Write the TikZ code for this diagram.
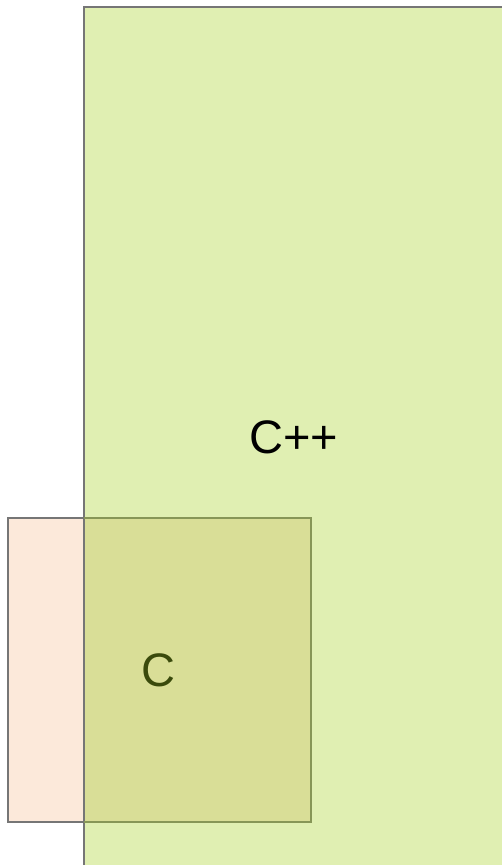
\documentclass[tikz,border=0pt]{standalone}
\usepackage{fontspec}
\setmainfont{Liberation Sans}
\definecolor{cppfill}{HTML}{E0EFB2}
\definecolor{cfill}{HTML}{FCE9DA}
\definecolor{bothfill}{HTML}{D9DE97}
\definecolor{edgegrey}{HTML}{767676}
\definecolor{edgeolive}{HTML}{879657}
\definecolor{ctext}{HTML}{3A4A0C}
\tikzset{
  edge/.style={line width=2pt, line join=miter},
  lang/.style={font=\fontsize{47}{47}\selectfont, inner sep=0pt}
}
\begin{document}
\begin{tikzpicture}[x=1pt,y=-1pt]
\useasboundingbox (0,0) rectangle (502,865);

% C++ area, runs off the page on the right and at the bottom
\fill [cppfill] (83.5,6.5) rectangle (520,880);
% C area and the part shared with C++
\fill [cfill] (8,518) rectangle (311,822);
\fill [bothfill] (83.5,518) rectangle (311,822);

\draw [edge, edgegrey] (83.5,880) -- (83.5,6.5) -- (520,6.5);
\draw [edge, edgegrey] (83.5,518) -- (8,518) -- (8,822) -- (83.5,822);
\draw [edge, edgeolive] (83.5,518) -- (311,518) -- (311,822) -- (83.5,822);

\node [lang] (cpp) at (294,437) {C++};
\node [lang, text=ctext] (c) at (158,670) {C};

\end{tikzpicture}
\end{document}
